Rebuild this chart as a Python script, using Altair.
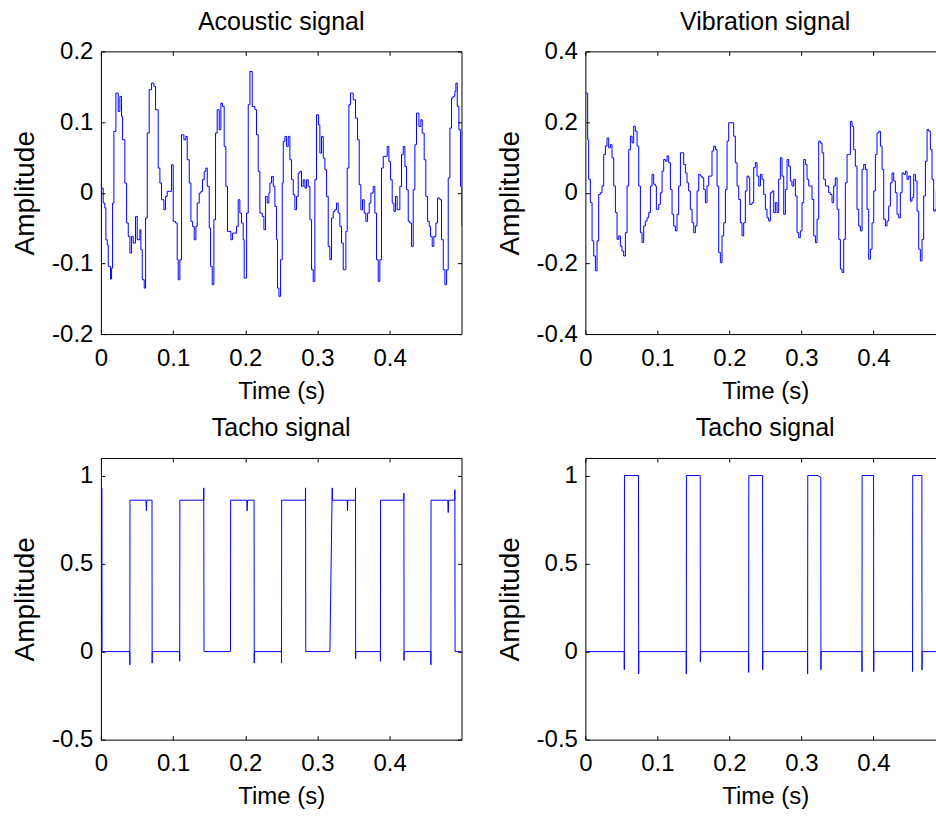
import altair as alt
import pandas as pd

# ---------------- data ----------------
acoustic_t = [
    0.0000, 0.0032, 0.0055, 0.0069, 0.0088, 0.0102, 0.0134, 0.0148, 0.0162, 0.0180,
    0.0208, 0.0240, 0.0263, 0.0286, 0.0300, 0.0332, 0.0356, 0.0379, 0.0402, 0.0425,
    0.0448, 0.0480, 0.0503, 0.0540, 0.0554, 0.0573, 0.0600, 0.0619, 0.0642, 0.0669,
    0.0702, 0.0734, 0.0757, 0.0794, 0.0817, 0.0840, 0.0873, 0.0896, 0.0919, 0.0956,
    0.0979, 0.1002, 0.1034, 0.1057, 0.1071, 0.1094, 0.1117, 0.1150, 0.1177, 0.1196,
    0.1224, 0.1247, 0.1270, 0.1293, 0.1316, 0.1334, 0.1362, 0.1385, 0.1408, 0.1431,
    0.1454, 0.1473, 0.1501, 0.1519, 0.1542, 0.1565, 0.1588, 0.1611, 0.1639, 0.1662,
    0.1685, 0.1708, 0.1731, 0.1754, 0.1801, 0.1824, 0.1879, 0.1902, 0.1925, 0.1948,
    0.1971, 0.1985, 0.2018, 0.2041, 0.2064, 0.2096, 0.2133, 0.2156, 0.2179, 0.2202,
    0.2235, 0.2258, 0.2281, 0.2304, 0.2327, 0.2341, 0.2364, 0.2387, 0.2410, 0.2433,
    0.2447, 0.2466, 0.2489, 0.2512, 0.2526, 0.2549, 0.2572, 0.2595, 0.2618, 0.2641,
    0.2664, 0.2687, 0.2710, 0.2733, 0.2756, 0.2779, 0.2803, 0.2826, 0.2849, 0.2872,
    0.2895, 0.2918, 0.2941, 0.2964, 0.2987, 0.3015, 0.3033, 0.3056, 0.3080, 0.3103,
    0.3126, 0.3149, 0.3172, 0.3195, 0.3218, 0.3241, 0.3264, 0.3287, 0.3310, 0.3333,
    0.3357, 0.3380, 0.3393, 0.3412, 0.3435, 0.3458, 0.3495, 0.3527, 0.3555, 0.3578,
    0.3601, 0.3624, 0.3647, 0.3670, 0.3694, 0.3717, 0.3740, 0.3772, 0.3795, 0.3818,
    0.3841, 0.3864, 0.3887, 0.3911, 0.3934, 0.3966, 0.3989, 0.4012, 0.4035, 0.4058,
    0.4081, 0.4104, 0.4141, 0.4164, 0.4188, 0.4211, 0.4234, 0.4257, 0.4280, 0.4303,
    0.4326, 0.4349, 0.4372, 0.4405, 0.4432, 0.4451, 0.4478, 0.4501, 0.4525, 0.4548,
    0.4566, 0.4589, 0.4612, 0.4640, 0.4663, 0.4695, 0.4718, 0.4742, 0.4765, 0.4788,
    0.4811, 0.4834, 0.4857, 0.4880, 0.4903, 0.4917, 0.4936, 0.4959, 0.4982, 0.4995,
]
acoustic_v = [
    0.0066, -0.0146, -0.0217, -0.0665, -0.0736, -0.1042, -0.1221, -0.1066, -0.0146, 0.0868,
    0.1410, 0.1150, 0.1363, 0.1080, 0.0750, 0.0137, -0.0429, -0.0618, -0.0853, -0.0618,
    -0.0712, -0.0335, -0.0665, -0.0523, -0.0806, -0.1231, -0.1349, -0.0358, 0.0844, 0.1457,
    0.1551, 0.1504, 0.1174, 0.0349, 0.0137, -0.0099, -0.0240, -0.0052, 0.0019, 0.0019,
    0.0396, -0.0405, -0.0429, -0.0948, -0.1231, -0.0948, 0.0820, 0.0750, 0.0797, 0.0467,
    0.0137, -0.0405, -0.0476, -0.0665, -0.0476, -0.0146, -0.0005, 0.0019, 0.0184, 0.0302,
    0.0349, 0.0090, -0.0500, -0.1042, -0.1301, -0.0382, 0.0844, 0.1174, 0.0891, 0.1268,
    0.1221, 0.0655, 0.0090, -0.0547, -0.0665, -0.0571, -0.0476, -0.0099, -0.0288, -0.0429,
    -0.0665, -0.1207, -0.0288, 0.1245, 0.1716, 0.1221, 0.1174, 0.0820, 0.0302, -0.0288,
    -0.0335, -0.0523, -0.0052, -0.0146, -0.0005, 0.0137, 0.0231, 0.0090, -0.0193, -0.0665,
    -0.1349, -0.1466, -0.0948, 0.0137, 0.0726, 0.0797, 0.0655, 0.0797, 0.0467, 0.0184,
    -0.0028, -0.0240, -0.0052, 0.0278, 0.0302, 0.0090, 0.0184, 0.0066, 0.0184, 0.0090,
    -0.0382, -0.1089, -0.1254, 0.0184, 0.1103, 0.0962, 0.0561, 0.0797, 0.0490, 0.0325,
    -0.0052, -0.0759, -0.0948, -0.0358, -0.0264, -0.0240, -0.0146, -0.0288, -0.0476, -0.0712,
    -0.1089, -0.1089, -0.0547, 0.0349, 0.1245, 0.1410, 0.1315, 0.1056, 0.0750, 0.0113,
    -0.0240, -0.0099, -0.0288, -0.0405, -0.0288, -0.0146, -0.0005, 0.0090, -0.0288, -0.0948,
    -0.1254, -0.0948, 0.0349, 0.0514, 0.0514, 0.0655, 0.0443, 0.0184, -0.0146, -0.0264,
    -0.0052, -0.0240, 0.0090, 0.0538, 0.0655, 0.0372, 0.0042, -0.0405, -0.0429, -0.0759,
    0.0042, 0.0679, 0.1127, 0.0938, 0.1033, 0.0844, 0.0467, -0.0052, -0.0405, -0.0476,
    -0.0618, -0.0759, -0.0618, -0.0429, -0.0075, -0.0099, -0.0665, -0.1089, -0.1301, -0.1089,
    0.0207, 0.0915, 0.1339, 0.1363, 0.1433, 0.1551, 0.1221, 0.0891, 0.0090, -0.0476,
]

vibration_t = [
    0.0000, 0.0032, 0.0046, 0.0069, 0.0093, 0.0116, 0.0139, 0.0162, 0.0185, 0.0208,
    0.0231, 0.0255, 0.0278, 0.0301, 0.0324, 0.0347, 0.0370, 0.0394, 0.0417, 0.0440,
    0.0463, 0.0486, 0.0509, 0.0532, 0.0556, 0.0579, 0.0602, 0.0625, 0.0648, 0.0671,
    0.0694, 0.0718, 0.0741, 0.0764, 0.0787, 0.0810, 0.0833, 0.0857, 0.0880, 0.0903,
    0.0926, 0.0949, 0.0972, 0.0986, 0.1019, 0.1042, 0.1065, 0.1088, 0.1111, 0.1134,
    0.1158, 0.1181, 0.1204, 0.1227, 0.1250, 0.1273, 0.1296, 0.1320, 0.1343, 0.1366,
    0.1389, 0.1412, 0.1435, 0.1458, 0.1482, 0.1505, 0.1528, 0.1551, 0.1574, 0.1597,
    0.1620, 0.1644, 0.1667, 0.1690, 0.1713, 0.1736, 0.1759, 0.1782, 0.1806, 0.1829,
    0.1852, 0.1875, 0.1898, 0.1921, 0.1945, 0.1968, 0.1991, 0.2037, 0.2060, 0.2083,
    0.2107, 0.2130, 0.2153, 0.2176, 0.2199, 0.2222, 0.2245, 0.2269, 0.2283, 0.2315,
    0.2338, 0.2361, 0.2384, 0.2408, 0.2431, 0.2454, 0.2477, 0.2500, 0.2523, 0.2546,
    0.2569, 0.2593, 0.2616, 0.2639, 0.2662, 0.2685, 0.2708, 0.2731, 0.2755, 0.2778,
    0.2801, 0.2824, 0.2847, 0.2870, 0.2894, 0.2917, 0.2940, 0.2963, 0.2986, 0.3009,
    0.3033, 0.3056, 0.3079, 0.3102, 0.3125, 0.3148, 0.3172, 0.3195, 0.3218, 0.3241,
    0.3264, 0.3287, 0.3310, 0.3334, 0.3357, 0.3380, 0.3403, 0.3426, 0.3449, 0.3472,
    0.3496, 0.3519, 0.3542, 0.3565, 0.3588, 0.3611, 0.3635, 0.3658, 0.3681, 0.3704,
    0.3727, 0.3750, 0.3773, 0.3797, 0.3820, 0.3843, 0.3866, 0.3889, 0.3912, 0.3935,
    0.3959, 0.3982, 0.4005, 0.4028, 0.4051, 0.4074, 0.4098, 0.4121, 0.4144, 0.4167,
    0.4190, 0.4213, 0.4236, 0.4260, 0.4283, 0.4306, 0.4329, 0.4352, 0.4375, 0.4399,
    0.4422, 0.4445, 0.4468, 0.4491, 0.4514, 0.4537, 0.4561, 0.4584, 0.4607, 0.4630,
    0.4653, 0.4676, 0.4699, 0.4723, 0.4746, 0.4769, 0.4792, 0.4815, 0.4838, 0.4861,
    0.4875, 0.4900,
]
vibration_v = [
    0.282, 0.150, 0.038, -0.028, -0.136, -0.179, -0.221, -0.136, -0.005, 0.000,
    0.019, 0.108, 0.132, 0.155, 0.127, 0.136, 0.099, 0.019, -0.056, -0.132,
    -0.122, -0.151, -0.165, -0.179, -0.113, 0.019, 0.122, 0.160, 0.141, 0.188,
    0.174, 0.132, 0.019, -0.113, -0.141, -0.094, -0.080, -0.071, -0.056, 0.019,
    0.052, 0.024, 0.019, -0.047, -0.033, 0.000, 0.061, 0.094, 0.089, 0.104,
    0.085, 0.009, -0.061, -0.094, -0.108, -0.061, 0.019, 0.113, 0.113, 0.080,
    0.056, 0.028, 0.005, -0.047, -0.085, -0.113, -0.094, 0.005, 0.052, 0.047,
    0.042, 0.009, -0.028, 0.019, 0.047, 0.047, 0.118, 0.132, 0.122, 0.019,
    -0.169, -0.198, -0.122, -0.085, 0.009, 0.146, 0.198, 0.198, 0.160, 0.085,
    0.019, -0.019, -0.085, -0.122, -0.085, 0.005, 0.047, 0.042, -0.033, -0.028,
    0.071, 0.085, 0.047, 0.019, 0.052, 0.038, -0.005, -0.047, -0.071, -0.080,
    0.000, 0.005, -0.056, -0.028, -0.056, 0.038, 0.099, 0.047, -0.061, 0.009,
    0.094, 0.075, 0.033, 0.019, 0.038, -0.009, -0.113, -0.127, -0.108, -0.028,
    0.094, 0.080, 0.038, 0.019, 0.019, -0.019, -0.122, -0.141, -0.075, 0.146,
    0.141, 0.113, 0.038, 0.019, 0.019, 0.000, -0.005, -0.028, 0.019, 0.042,
    -0.047, -0.132, -0.216, -0.226, -0.132, 0.028, 0.108, 0.108, 0.202, 0.188,
    0.122, 0.075, -0.047, -0.094, -0.108, 0.066, 0.080, 0.066, -0.047, -0.188,
    -0.160, -0.085, 0.005, 0.108, 0.169, 0.174, 0.132, 0.066, -0.075, -0.094,
    -0.080, -0.038, 0.028, 0.056, 0.033, 0.000, -0.061, -0.071, 0.000, 0.056,
    0.052, 0.061, 0.038, 0.047, -0.024, -0.014, 0.052, 0.033, -0.052, -0.160,
    -0.193, -0.132, -0.009, 0.089, 0.179, 0.174, 0.122, 0.038, -0.052, -0.047,
    0.005, 0.005,
]

tacho1_t = [
    0.0000, 0.0014, 0.0016, 0.0400, 0.0401, 0.0403, 0.0625, 0.0630, 0.0636, 0.0708,
    0.0710, 0.0712, 0.1091, 0.1092, 0.1094, 0.1424, 0.1425, 0.1428, 0.1795, 0.1797,
    0.2020, 0.2026, 0.2032, 0.2122, 0.2124, 0.2126, 0.2501, 0.2502, 0.2504, 0.2833,
    0.2835, 0.2838, 0.3172, 0.3204, 0.3207, 0.3412, 0.3416, 0.3420, 0.3526, 0.3527,
    0.3529, 0.3531, 0.3871, 0.3872, 0.3874, 0.4196, 0.4197, 0.4199, 0.4201, 0.4570,
    0.4571, 0.4573, 0.4805, 0.4811, 0.4817, 0.4902, 0.4903, 0.4906, 0.4995,
]
tacho1_v = [
    0.93, 0.93, 0.00, 0.00, -0.075, 0.86, 0.86, 0.80, 0.86, 0.86,
    -0.065, 0.00, 0.00, -0.055, 0.86, 0.86, 0.93, 0.00, 0.00, 0.86,
    0.86, 0.80, 0.86, 0.86, -0.065, 0.00, 0.00, -0.065, 0.86, 0.86,
    0.93, 0.00, 0.00, 0.93, 0.86, 0.86, 0.80, 0.86, 0.86, 0.93,
    -0.04, 0.00, 0.00, -0.055, 0.86, 0.86, 0.90, -0.05, 0.00, 0.00,
    -0.075, 0.86, 0.86, 0.79, 0.86, 0.86, 0.92, 0.00, 0.00,
]

tacho2_t = [
    0.0000, 0.0540, 0.0541, 0.0543, 0.0738, 0.0740, 0.0742, 0.1401, 0.1402, 0.1404,
    0.1595, 0.1597, 0.1599, 0.2267, 0.2268, 0.2270, 0.2461, 0.2463, 0.2465, 0.3086,
    0.3087, 0.3089, 0.3230, 0.3270, 0.3272, 0.3274, 0.3841, 0.3842, 0.3844, 0.4003,
    0.4005, 0.4007, 0.4544, 0.4545, 0.4547, 0.4674, 0.4676, 0.4678, 0.4995,
]
tacho2_v = [
    0.00, 0.00, -0.103, 1.00, 1.00, -0.127, 0.00, 0.00, -0.127, 1.00,
    1.00, -0.058, 0.00, 0.00, -0.118, 1.00, 1.00, -0.103, 0.00, 0.00,
    -0.127, 1.00, 1.00, 0.99, -0.103, 0.00, 0.00, -0.114, 1.00, 1.00,
    -0.114, 0.00, 0.00, -0.114, 1.00, 1.00, -0.103, 0.00, 0.00,
]

x_ticks = [0, 0.1, 0.2, 0.3, 0.4]
acoustic_ticks = [-0.2, -0.1, 0, 0.1, 0.2]
vibration_ticks = [-0.4, -0.2, 0, 0.2, 0.4]
tacho_ticks = [-0.5, 0, 0.5, 1]

titles = ["Acoustic signal", "Vibration signal", "Tacho signal", "Tacho signal"]

# ---------------- chart ----------------
FONT = "Liberation Sans"
BLUE = "#0000ff"
TICK = 4
LABEL_EXPR = "datum.value < 0 ? '-' + format(-datum.value, '~g') : format(datum.value, '~g')"


def frame(t, v):
    return pd.DataFrame({"t": t, "v": v, "i": list(range(len(t)))})


def panel(df, title, ydom, yticks, width, height, interp, title_offset):
    xs = alt.Scale(domain=[0, 0.4995], nice=False, zero=False)
    ys = alt.Scale(domain=ydom, nice=False, zero=False)
    line = alt.Chart(df).mark_line(
        color=BLUE, strokeWidth=1, interpolate=interp, clip=True
    ).encode(
        x=alt.X("t:Q", scale=xs, axis=alt.Axis(
            orient="bottom", values=x_ticks, title="Time (s)", tickSize=TICK,
            offset=-TICK, labelPadding=12, titlePadding=9, labelFlush=False,
            labelOverlap=False, labelExpr=LABEL_EXPR)),
        y=alt.Y("v:Q", scale=ys, axis=alt.Axis(
            orient="left", values=yticks, title="Amplitude", tickSize=TICK,
            offset=-TICK, labelPadding=8, titlePadding=12, titleFontSize=28,
            labelOverlap=False, labelExpr=LABEL_EXPR)),
        order="i:Q",
    )
    mirror = alt.Chart(df).mark_line(opacity=0, clip=True).encode(
        x=alt.X("t:Q", scale=xs, axis=alt.Axis(
            orient="top", values=x_ticks, title=None, labels=False,
            tickSize=TICK, offset=-TICK)),
        y=alt.Y("v:Q", scale=ys, axis=alt.Axis(
            orient="right", values=yticks, title=None, labels=False,
            tickSize=TICK, offset=-TICK)),
        order="i:Q",
    )
    return alt.layer(line, mirror).resolve_axis(
        x="independent", y="independent"
    ).properties(
        width=width, height=height,
        title=alt.TitleParams(title, baseline="alphabetic", offset=title_offset),
    )


p1 = panel(frame(acoustic_t, acoustic_v), titles[0], [-0.2, 0.2], acoustic_ticks, 361, 283, "step-after", -16)
p2 = panel(frame(vibration_t, vibration_v), titles[1], [-0.4, 0.4], vibration_ticks, 360, 283, "step-after", -16)
p3 = panel(frame(tacho1_t, tacho1_v), titles[2], [-0.5, 1.1], tacho_ticks, 361, 282, "linear", -4)
p4 = panel(frame(tacho2_t, tacho2_v), titles[3], [-0.5, 1.1], tacho_ticks, 360, 282, "linear", -4)

chart = alt.vconcat(
    alt.hconcat(p1, p2, spacing=33),
    alt.hconcat(p3, p4, spacing=33),
    spacing=12,
).properties(
    padding={"left": 11, "top": 9, "right": -10, "bottom": 3},
    background="white",
).configure_view(
    stroke="black", strokeWidth=1
).configure_axis(
    labelFont=FONT, titleFont=FONT, labelFontSize=24, titleFontSize=24,
    labelColor="black", titleColor="black", tickColor="black",
    titleFontWeight="normal", grid=False, domain=False, tickWidth=1,
).configure_title(
    font=FONT, fontSize=25, fontWeight="normal", color="black", anchor="middle"
)

chart.save("out.html", embed_options={"renderer": "svg", "actions": False})
